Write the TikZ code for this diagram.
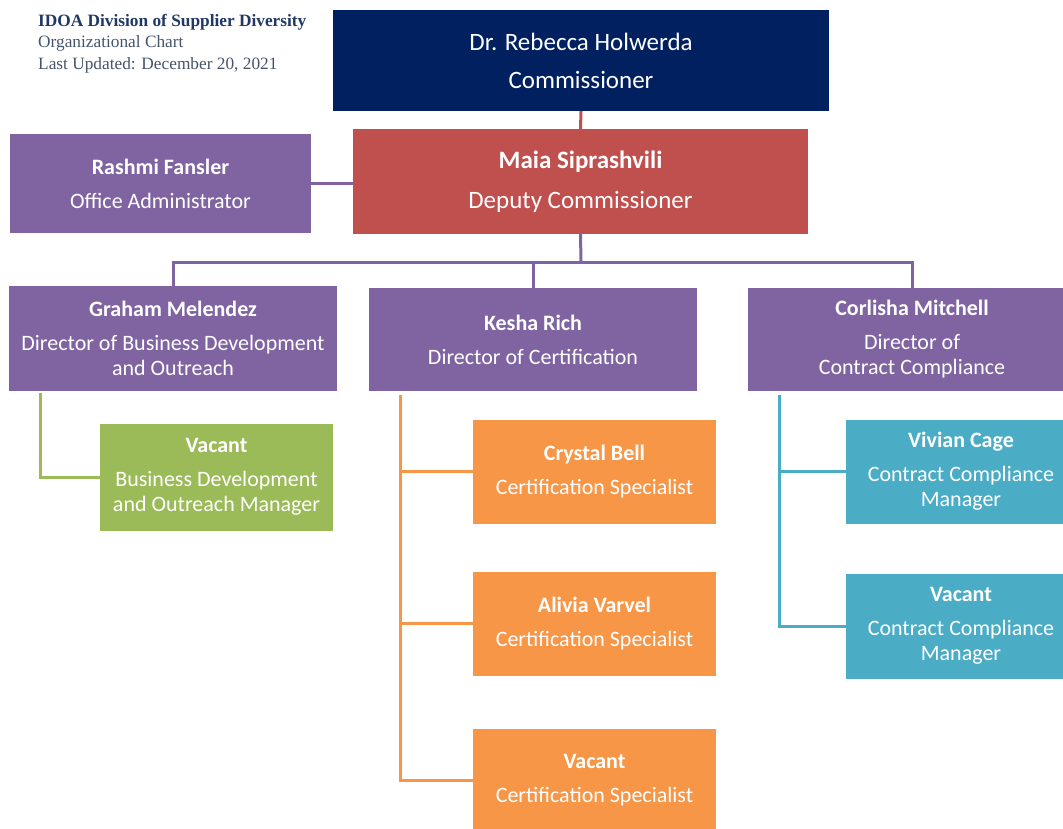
\documentclass[tikz,border=0pt]{standalone}
\usepackage{fontspec}
\setmainfont{Carlito}
\newfontfamily\titlefont{Liberation Serif}
\definecolor{navy}{RGB}{0,32,96}
\definecolor{dred}{RGB}{192,80,77}
\definecolor{purp}{RGB}{128,100,162}
\definecolor{grn}{RGB}{155,187,89}
\definecolor{orng}{RGB}{247,150,70}
\definecolor{aqua}{RGB}{75,172,198}
\definecolor{ttl}{RGB}{31,56,100}
\definecolor{ttlb}{RGB}{68,84,106}
\tikzset{
  box/.style={rectangle, inner sep=0pt, align=center, text=white},
  big/.style={box, font=\fontsize{25}{38}\selectfont},
  std/.style={box, font=\fontsize{22}{25}\selectfont},
  conn/.style={line width=3pt},
}
\begin{document}
\begin{tikzpicture}[x=1pt,y=-1pt]
\useasboundingbox (0,0) rectangle (1063,829);
\clip (0,0) rectangle (1063,829);
% title
\node[anchor=north west, inner sep=0pt, align=left, font=\titlefont\fontsize{17.3}{21.5}\selectfont] (title) at (38,14)
  {\textcolor{ttl}{\textbf{IDOA Division of Supplier Diversity}}\\
   \textcolor{ttlb}{Organizational Chart}\\
   \textcolor{ttlb}{Last Updated: December 20, 2021}};
% top
\node[big, fill=navy, minimum width=496pt, minimum height=101pt] (comm) at (581,60.5)
  {Dr. Rebecca Holwerda\\Commissioner};
\node[big, fill=dred, minimum width=455pt, minimum height=105pt, font=\fontsize{25}{40}\selectfont] (dep) at (580.5,181.5)
  {\textbf{Maia Siprashvili}\\Deputy Commissioner};
\node[std, fill=purp, minimum width=301pt, minimum height=99pt] (ras) at (160.5,184)
  {\textbf{Rashmi Fansler}\\[9pt]Office Administrator};
% directors
\node[std, fill=purp, minimum width=328pt, minimum height=105pt] (gm) at (173,338.5)
  {\textbf{Graham Melendez}\\[9pt]Director of Business Development\\and Outreach};
\node[std, fill=purp, minimum width=328pt, minimum height=103pt] (kr) at (533,339.5)
  {\textbf{Kesha Rich}\\[9pt]Director of Certification};
\node[std, fill=purp, minimum width=328pt, minimum height=103pt] (cm) at (912,339.5)
  {\textbf{Corlisha Mitchell}\\[9pt]Director of\\Contract Compliance};
% staff
\node[std, fill=grn, minimum width=233pt, minimum height=107pt] (bdm) at (216.5,477)
  {\textbf{Vacant}\\[9pt]Business Development\\and Outreach Manager};
\node[std, fill=orng, minimum width=243pt, minimum height=104pt] (cs1) at (594.5,471.5)
  {\textbf{Crystal Bell}\\[9pt]Certification Specialist};
\node[std, fill=orng, minimum width=243pt, minimum height=104pt] (cs2) at (594.5,623.5)
  {\textbf{Alivia Varvel}\\[9pt]Certification Specialist};
\node[std, fill=orng, minimum width=243pt, minimum height=104pt] (cs3) at (594.5,780.5)
  {\textbf{Vacant}\\[9pt]Certification Specialist};
\node[std, fill=aqua, minimum width=230pt, minimum height=104pt] (cc1) at (961,471.5)
  {\textbf{Vivian Cage}\\[9pt]Contract Compliance\\Manager};
\node[std, fill=aqua, minimum width=230pt, minimum height=105pt] (cc2) at (961,626)
  {\textbf{Vacant}\\[9pt]Contract Compliance\\Manager};
% connectors
\draw[conn, dred] (comm.south) -- (dep.north);
\draw[conn, purp] (ras.east) -- (ras.east -| dep.west);
\coordinate (bus) at (581,262);
\draw[conn, purp] (dep.south) -- (bus);
\draw[conn, purp] (gm.north) -- (gm.north |- bus) -- (cm.north |- bus) -- (cm.north);
\draw[conn, purp] (kr.north) -- (kr.north |- bus);
\coordinate (gtap) at (40,393);
\draw[conn, grn] (gtap) |- (bdm.west);
\coordinate (otap) at (400,395);
\draw[conn, orng] (otap) |- (cs3.west);
\draw[conn, orng] (otap |- cs1.west) -- (cs1.west);
\draw[conn, orng] (otap |- cs2.west) -- (cs2.west);
\coordinate (btap) at (779,395);
\draw[conn, aqua] (btap) |- (cc2.west);
\draw[conn, aqua] (btap |- cc1.west) -- (cc1.west);
\end{tikzpicture}
\end{document}
